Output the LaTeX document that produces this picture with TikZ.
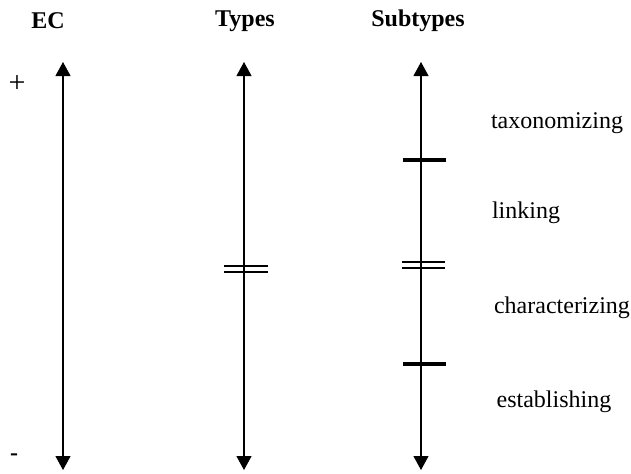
\documentclass[tikz,border=0pt]{standalone}
\usepackage{fontspec}
\setmainfont{Liberation Serif}
\usepackage{tikz}
\usetikzlibrary{arrows.meta, positioning}

\tikzset{
    heading/.style={font=\bfseries\fontsize{12}{14}\selectfont, inner sep=1pt},
    label/.style={font=\fontsize{12}{14}\selectfont, inner sep=1pt},
    sign/.style={font=\fontsize{15}{17}\selectfont, inner sep=1pt},
    scaleline/.style={line width=0.55pt, {Triangle[width=7.5pt,length=7pt]}-{Triangle[width=7.5pt,length=7pt]}},
    cutbar/.style={line width=1.8pt},
    splitbar/.style={line width=0.55pt}
}

\begin{document}
\begin{tikzpicture}[x=0.5pt, y=-0.5pt]

    \useasboundingbox (0,0) rectangle (631,473);

    % =================================================================
    % 1. TIÊU ĐỀ CÁC CỘT
    % =================================================================
    \node[heading] (ec) at (48,21) {EC};
    \node[heading] (types) at (245,21) {Types};
    \node[heading] (subtypes) at (418,21) {Subtypes};

    % dấu + và -
    \node[sign] (plus) at (17,84) {+};
    \node[label] (minus) at (14,457) {\bfseries -};

    % =================================================================
    % 2. CÁC TRỤC HAI ĐẦU MŨI TÊN
    % =================================================================
    \coordinate (ectop) at (63,62);
    \coordinate (ecbot) at (63,470);
    \coordinate (typestop) at (244,62);
    \coordinate (typesbot) at (244,470);
    \coordinate (subtop) at (421,62);
    \coordinate (subbot) at (421,470);

    \draw[scaleline] (ecbot) -- (ectop);
    \draw[scaleline] (typesbot) -- (typestop);
    \draw[scaleline] (subbot) -- (subtop);

    % =================================================================
    % 3. CÁC VẠCH CHIA
    % =================================================================
    % vạch đôi trên trục Types
    \draw[splitbar] (224,266) -- (268,266);
    \draw[splitbar] (224,272) -- (268,272);

    % vạch trên trục Subtypes
    \draw[cutbar] (403,160) -- (446,160);
    \draw[splitbar] (402,262) -- (445,262);
    \draw[splitbar] (402,268) -- (445,268);
    \draw[cutbar] (403,364) -- (446,364);

    % =================================================================
    % 4. NHÃN CÁC PHÂN LOẠI
    % =================================================================
    \node[label] (taxon) at (557,123) {taxonomizing};
    \node[label] (link) at (526,213) {linking};
    \node[label] (charac) at (562,308) {characterizing};
    \node[label] (estab) at (554,402) {establishing};

\end{tikzpicture}
\end{document}
